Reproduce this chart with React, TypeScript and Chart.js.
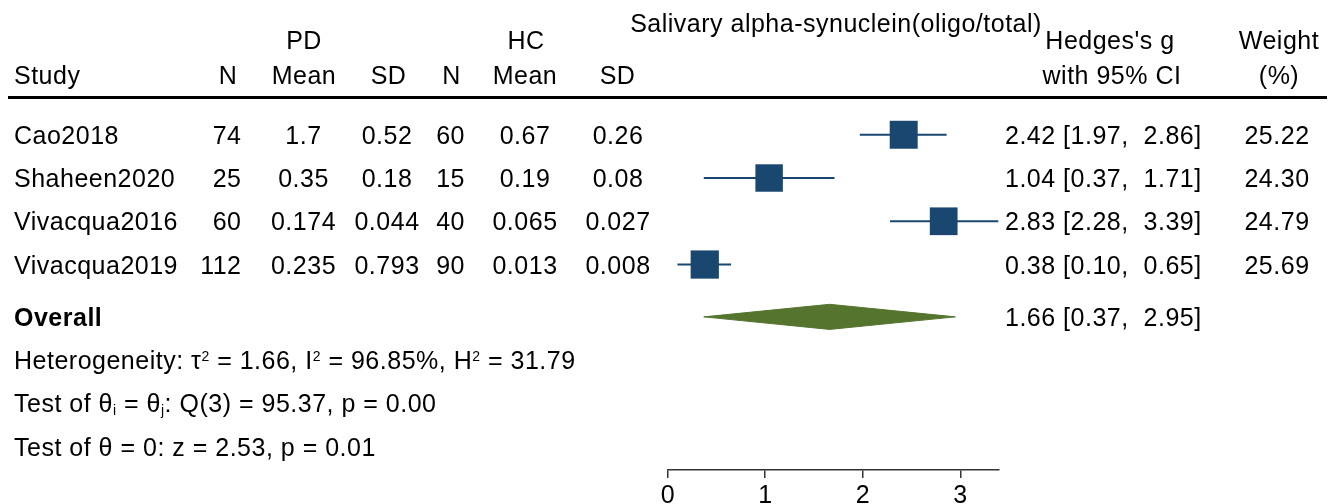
import React, { useEffect, useRef } from "react";
import { Chart, registerables } from "chart.js";

Chart.register(...registerables);

// ---------------- data ----------------
const studies = ["Cao2018", "Shaheen2020", "Vivacqua2016", "Vivacqua2019"];
const pdN = [74, 25, 60, 112];
const pdMean = [1.7, 0.35, 0.174, 0.235];
const pdSD = [0.52, 0.18, 0.044, 0.793];
const hcN = [60, 15, 40, 90];
const hcMean = [0.67, 0.19, 0.065, 0.013];
const hcSD = [0.26, 0.08, 0.027, 0.008];
const hedgesG = [2.42, 1.04, 2.83, 0.38];
const ciLow = [1.97, 0.37, 2.28, 0.1];
const ciHigh = [2.86, 1.71, 3.39, 0.65];
const weights = [25.22, 24.3, 24.79, 25.69];
const overallG = 1.66;
const overallLow = 0.37;
const overallHigh = 2.95;
const xTicks = [0, 1, 2, 3];
const tau2 = 1.66;
const iSquared = 96.85;
const hSquared = 31.79;
const qDf = 3;
const qStat = 95.37;
const qP = 0.0;
const zStat = 2.53;
const zP = 0.01;

// ---------------- layout / style ----------------
const W = 1335;
const H = 504;
const FONT = "'Liberation Sans', Arial, Helvetica, sans-serif";
const FS = 25;
const SMALL = 14;
const SPACING = "0.5px";
const NAVY = "#1a476f";
const GREEN = "#55752f";
const ROW_OVERALL = 5.21;
const DIAMOND_HALF = 0.29;
const BOX_K = 5.57;
const CAP_HALF = 9;

function fmt2(v: number) {
  return v.toFixed(2);
}

type Part = { t: string; s?: "sup" | "sub" };

function drawRich(ctx: CanvasRenderingContext2D, parts: Part[], x: number, y: number) {
  let cx = x;
  for (const p of parts) {
    const size = p.s ? SMALL : FS;
    ctx.font = `${size}px ${FONT}`;
    const dy = p.s === "sup" ? -8.5 : p.s === "sub" ? 2.5 : 0;
    ctx.textAlign = "left";
    ctx.fillText(p.t, cx, y + dy);
    cx += ctx.measureText(p.t).width;
  }
}

export default function App() {
  const ref = useRef<HTMLCanvasElement>(null);

  useEffect(() => {
    const canvas = ref.current;
    if (!canvas) return;

    const textPlugin = {
      id: "forestText",
      afterDraw(chart: any) {
        const ctx: CanvasRenderingContext2D = chart.ctx;
        const ys = chart.scales.y;
        const base = (v: number) => ys.getPixelForValue(v) + CAP_HALF;
        ctx.save();
        ctx.fillStyle = "#000";
        ctx.textBaseline = "alphabetic";
        (ctx as any).letterSpacing = SPACING;
        const txt = (s: string, x: number, y: number, align: CanvasTextAlign = "left", bold = false) => {
          ctx.font = `${bold ? "bold " : ""}${FS}px ${FONT}`;
          ctx.textAlign = align;
          ctx.fillText(s, x, y);
        };

        // header
        txt("Salivary alpha-synuclein(oligo/total)", 836, 32, "center");
        txt("PD", 304, 48.5, "center");
        txt("HC", 526, 48.5, "center");
        txt("Hedges's g", 1110, 49, "center");
        txt("Weight", 1279, 49, "center");
        const h2 = 83.5;
        txt("Study", 14, h2, "left");
        txt("N", 228, h2, "center");
        txt("Mean", 304, h2, "center");
        txt("SD", 388.5, h2, "center");
        txt("N", 451.5, h2, "center");
        txt("Mean", 525, h2, "center");
        txt("SD", 617.5, h2, "center");
        txt("with 95% CI", 1112, h2, "center");
        txt("(%)", 1279, h2, "center");

        // header rule
        ctx.fillRect(8, 96, 1319, 3);

        // study rows
        studies.forEach((s, i) => {
          const y = base(i + 1);
          txt(s, 14, y, "left");
          txt(String(pdN[i]), 241.5, y, "right");
          txt(String(pdMean[i]), 303.5, y, "center");
          txt(String(pdSD[i]), 387, y, "center");
          txt(String(hcN[i]), 465, y, "right");
          txt(String(hcMean[i]), 525, y, "center");
          txt(String(hcSD[i]), 618, y, "center");
          txt(`${fmt2(hedgesG[i])} [${fmt2(ciLow[i])}, ${fmt2(ciHigh[i]).padStart(5)}]`, 1005, y, "left");
          txt(fmt2(weights[i]), 1277, y, "center");
        });

        // overall row
        const yo = base(ROW_OVERALL);
        txt("Overall", 14, yo, "left", true);
        txt(`${fmt2(overallG)} [${fmt2(overallLow)}, ${fmt2(overallHigh).padStart(5)}]`, 1005, yo, "left");

        // statistics
        drawRich(
          ctx,
          [
            { t: "Heterogeneity: τ" },
            { t: "2", s: "sup" },
            { t: ` = ${fmt2(tau2)}, I` },
            { t: "2", s: "sup" },
            { t: ` = ${fmt2(iSquared)}%, H` },
            { t: "2", s: "sup" },
            { t: ` = ${fmt2(hSquared)}` },
          ],
          14,
          base(ROW_OVERALL + 1)
        );
        drawRich(
          ctx,
          [
            { t: "Test of θ" },
            { t: "i", s: "sub" },
            { t: " = θ" },
            { t: "j", s: "sub" },
            { t: `: Q(${qDf}) = ${fmt2(qStat)}, p = ${fmt2(qP)}` },
          ],
          14,
          base(ROW_OVERALL + 2)
        );
        drawRich(ctx, [{ t: `Test of θ = 0: z = ${fmt2(zStat)}, p = ${fmt2(zP)}` }], 14, base(ROW_OVERALL + 3));
        ctx.restore();
      },
    };

    const ciDatasets = studies.map((s, i) => ({
      label: `${s} CI`,
      data: [
        { x: ciLow[i], y: i + 1 },
        { x: ciHigh[i], y: i + 1 },
      ],
      borderColor: NAVY,
      backgroundColor: NAVY,
      borderWidth: 2,
      pointRadius: 0,
      fill: false,
      tension: 0,
      clip: false,
      order: 2,
    }));

    const boxDataset = {
      label: "Hedges's g",
      data: hedgesG.map((v, i) => ({ x: v, y: i + 1 })),
      showLine: false,
      pointStyle: "rect",
      pointRadius: weights.map((w) => (BOX_K * Math.sqrt(w)) / Math.SQRT2),
      pointBackgroundColor: NAVY,
      pointBorderColor: NAVY,
      pointBorderWidth: 0,
      clip: false,
      order: 1,
    };

    const diamondDataset = {
      label: "Overall",
      data: [
        { x: overallLow, y: ROW_OVERALL },
        { x: overallG, y: ROW_OVERALL - DIAMOND_HALF },
        { x: overallHigh, y: ROW_OVERALL },
        { x: overallG, y: ROW_OVERALL + DIAMOND_HALF },
        { x: overallLow, y: ROW_OVERALL },
      ],
      borderColor: GREEN,
      backgroundColor: GREEN,
      borderWidth: 1,
      fill: "shape",
      pointRadius: 0,
      tension: 0,
      clip: false,
      order: 3,
    };

    const chart = new Chart(canvas, {
      type: "line",
      data: { datasets: [...ciDatasets, boxDataset, diamondDataset] as any },
      options: {
        responsive: false,
        devicePixelRatio: 1,
        animation: false,
        events: [],
        layout: { padding: { left: 667.7, right: 336.7, top: 91.5, bottom: 0 } },
        plugins: { legend: { display: false }, tooltip: { enabled: false } },
        scales: {
          x: {
            type: "linear",
            min: Math.min(0, ...ciLow),
            max: Math.max(...ciHigh),
            afterBuildTicks: (s: any) => {
              s.ticks = xTicks.map((v) => ({ value: v }));
            },
            afterFit: (s: any) => {
              s.height = 34;
            },
            grid: {
              display: true,
              drawOnChartArea: false,
              drawTicks: true,
              tickLength: 8,
              color: "#333",
              lineWidth: 1.5,
            },
            border: { display: true, color: "#333", width: 1.5 },
            ticks: {
              color: "#000",
              padding: 3,
              font: { size: FS, family: FONT },
              maxRotation: 0,
              callback: (v: any) => String(v),
            },
          },
          y: { type: "linear", display: false, reverse: true, min: 0, max: 8.75 },
        },
      } as any,
      plugins: [textPlugin],
    });

    return () => chart.destroy();
  }, []);

  return (
    <div style={{ position: "fixed", left: 0, top: 0, width: W, height: H, background: "#fff", overflow: "hidden" }}>
      <canvas ref={ref} width={W} height={H} style={{ display: "block", width: W, height: H }} />
    </div>
  );
}
